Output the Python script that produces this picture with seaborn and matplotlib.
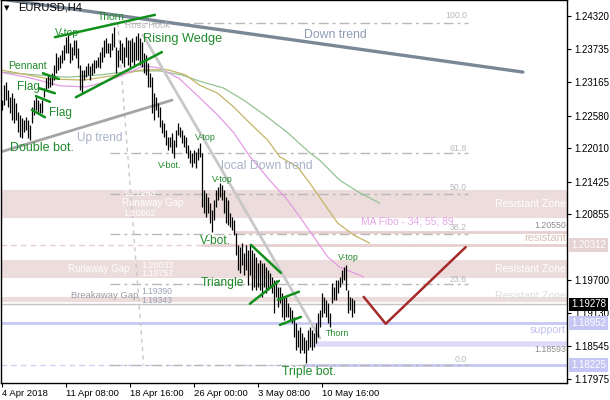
import matplotlib
matplotlib.use("Agg")
import matplotlib.pyplot as plt
import matplotlib.transforms as mtransforms
import seaborn as sns

# EURUSD H4 bar highs / lows (one bar per 4 hours)
high = [1.2285, 1.2311, 1.2317, 1.2303, 1.2290, 1.2297, 1.2289, 1.2280, 1.2264, 1.2259,
        1.2254, 1.2250, 1.2255, 1.2250, 1.2242, 1.2273, 1.2285, 1.2290, 1.2285, 1.2280,
        1.2285, 1.2306, 1.2324, 1.2329, 1.2325, 1.2332, 1.2346, 1.2367, 1.2360, 1.2364,
        1.2373, 1.2381, 1.2395, 1.2399, 1.2385, 1.2378, 1.2390, 1.2390, 1.2376, 1.2346,
        1.2338, 1.2338, 1.2345, 1.2350, 1.2345, 1.2350, 1.2355, 1.2355, 1.2360, 1.2369,
        1.2378, 1.2390, 1.2394, 1.2385, 1.2385, 1.2402, 1.2413, 1.2378, 1.2373, 1.2390,
        1.2385, 1.2378, 1.2395, 1.2390, 1.2390, 1.2394, 1.2387, 1.2397, 1.2402, 1.2394,
        1.2387, 1.2367, 1.2364, 1.2350, 1.2332, 1.2325, 1.2297, 1.2290, 1.2280, 1.2273,
        1.2250, 1.2245, 1.2233, 1.2221, 1.2221, 1.2228, 1.2215, 1.2233, 1.2245, 1.2238,
        1.2233, 1.2224, 1.2221, 1.2207, 1.2198, 1.2193, 1.2198, 1.2194, 1.2201, 1.2210,
        1.2193, 1.2128, 1.2123, 1.2116, 1.2105, 1.2093, 1.2110, 1.2128, 1.2133, 1.2140,
        1.2137, 1.2128, 1.2116, 1.2110, 1.2088, 1.2081, 1.2075, 1.2053, 1.2032, 1.2028,
        1.2035, 1.2018, 1.2032, 1.2023, 1.2032, 1.2023, 1.2018, 1.2011, 1.2000, 1.2005,
        1.2000, 1.2000, 1.1993, 1.1988, 1.1983, 1.1976, 1.1971, 1.1971, 1.1958, 1.1958,
        1.1948, 1.1941, 1.1941, 1.1930, 1.1923, 1.1918, 1.1906, 1.1895, 1.1883, 1.1888,
        1.1878, 1.1871, 1.1866, 1.1883, 1.1888, 1.1883, 1.1878, 1.1895, 1.1913, 1.1918,
        1.1948, 1.1941, 1.1936, 1.1930, 1.1913, 1.1965, 1.1958, 1.1971, 1.1971, 1.1976,
        1.1988, 1.1993, 1.1997, 1.1953, 1.1941, 1.1939, 1.1936]
low = [1.2268, 1.2276, 1.2285, 1.2273, 1.2262, 1.2250, 1.2245, 1.2250, 1.2229, 1.2221,
       1.2219, 1.2229, 1.2233, 1.2219, 1.2215, 1.2245, 1.2259, 1.2268, 1.2262, 1.2262,
       1.2262, 1.2290, 1.2303, 1.2306, 1.2308, 1.2311, 1.2320, 1.2332, 1.2338, 1.2341,
       1.2350, 1.2355, 1.2367, 1.2367, 1.2350, 1.2355, 1.2364, 1.2359, 1.2341, 1.2303,
       1.2297, 1.2320, 1.2325, 1.2329, 1.2320, 1.2329, 1.2332, 1.2341, 1.2343, 1.2341,
       1.2352, 1.2360, 1.2367, 1.2367, 1.2360, 1.2373, 1.2378, 1.2332, 1.2343, 1.2355,
       1.2350, 1.2343, 1.2360, 1.2346, 1.2341, 1.2352, 1.2346, 1.2355, 1.2355, 1.2346,
       1.2343, 1.2332, 1.2329, 1.2308, 1.2308, 1.2262, 1.2250, 1.2268, 1.2255, 1.2238,
       1.2228, 1.2221, 1.2207, 1.2198, 1.2203, 1.2193, 1.2184, 1.2203, 1.2224, 1.2221,
       1.2210, 1.2203, 1.2193, 1.2184, 1.2175, 1.2168, 1.2175, 1.2166, 1.2180, 1.2186,
       1.2098, 1.2088, 1.2081, 1.2088, 1.2070, 1.2054, 1.2075, 1.2098, 1.2110, 1.2116,
       1.2110, 1.2088, 1.2070, 1.2067, 1.2063, 1.2058, 1.2049, 1.2014, 1.1988, 1.1983,
       1.1997, 1.1979, 1.1988, 1.1962, 1.1979, 1.1953, 1.1958, 1.1953, 1.1958, 1.1953,
       1.1941, 1.1958, 1.1948, 1.1953, 1.1958, 1.1948, 1.1913, 1.1941, 1.1923, 1.1930,
       1.1906, 1.1901, 1.1906, 1.1906, 1.1901, 1.1895, 1.1871, 1.1848, 1.1853, 1.1843,
       1.1848, 1.1843, 1.1825, 1.1848, 1.1853, 1.1848, 1.1853, 1.1860, 1.1871, 1.1888,
       1.1906, 1.1913, 1.1906, 1.1895, 1.1888, 1.1930, 1.1936, 1.1936, 1.1948, 1.1958,
       1.1965, 1.1971, 1.1953, 1.1913, 1.1918, 1.1906, 1.1913]
bars = list(range(len(high)))

# moving averages 34 / 55 / 89, sampled along the lines
ma34_bar = [-1, 14, 29, 42, 52, 62, 71, 79, 89, 99, 108, 116, 124, 134, 143, 149, 156, 163, 169, 181]
ma34 = [1.2334, 1.2324, 1.2310, 1.2308, 1.2317, 1.2331, 1.2345, 1.2341, 1.2322, 1.2289,
        1.2259, 1.2228, 1.2187, 1.2145, 1.2110, 1.2081, 1.2046, 1.2011, 1.1993, 1.1976]
ma55_bar = [-1, 24, 41, 58, 71, 83, 92, 99, 108, 116, 124, 133, 139, 148, 154, 161, 168, 176, 184]
ma55 = [1.2338, 1.2322, 1.2320, 1.2329, 1.2338, 1.2338, 1.2329, 1.2311, 1.2297, 1.2273,
        1.2245, 1.2215, 1.2186, 1.2168, 1.2140, 1.2105, 1.2070, 1.2049, 1.2035]
ma89_bar = [-1, 33, 49, 66, 79, 90, 99, 111, 121, 133, 143, 154, 159, 169, 179, 189]
ma89 = [1.2334, 1.2325, 1.2329, 1.2336, 1.2336, 1.2329, 1.2318, 1.2306, 1.2285, 1.2255,
        1.2228, 1.2193, 1.2180, 1.2145, 1.2123, 1.2105]

# trend lines: (bar0, bar1), (price0, price1)
down_trend = ([-1, 260.6], [1.2462, 1.2334])
up_trend = ([-0.9, 85.2], [1.2194, 1.2285])
local_down = ([70.6, 159.1], [1.2399, 1.1869])
fibo_diag = ([58, 71], [1.2420, 1.18225])
pattern_lines = [([26.6, 76.6], [1.2395, 1.2434]),
                 ([37.1, 80.1], [1.2290, 1.2369]),
                 ([20.6, 28.6], [1.2332, 1.2322]),
                 ([18.6, 26.6], [1.2306, 1.2297]),
                 ([17.1, 24.1], [1.2292, 1.2282]),
                 ([15.1, 21.6], [1.2268, 1.2255]),
                 ([124.6, 139.6], [1.2032, 1.1983]),
                 ([124.1, 138.6], [1.1929, 1.1969]),
                 ([138.1, 148.6], [1.1936, 1.1950]),
                 ([139.1, 149.6], [1.1892, 1.1906])]
forecast_bar = [181, 192, 232]
forecast = [1.1941, 1.1894, 1.2028]

# fibonacci retracement
fib_hi, fib_lo = 1.2420, 1.18225
fib_levels = [100.0, 61.8, 50.0, 38.2, 23.6, 0.0]
fib_bars = (54, 233)

# gap / resistance zones (top, bottom)
zones = [(1.21263, 1.20802), (1.20033, 1.19757), (1.19390, 1.19343)]

yticks = [1.24320, 1.23735, 1.23165, 1.22580, 1.22010, 1.21425, 1.20855,
          1.19700, 1.19130, 1.18545, 1.17975]
xtick_bars = [0, 32, 64, 96, 128, 160]
xtick_labels = ["4 Apr 2018", "11 Apr 08:00", "18 Apr 16:00", "26 Apr 00:00",
                "3 May 08:00", "10 May 16:00"]
price_marks = [1.20312, 1.19278, 1.18952, 1.18225]
mark_colors = ['#e6d2d2', 'black', '#c6c6f4', '#c6c6f4']

PINK = '#ecdcdb'
LAV = '#c8c8f6'
G = '#1f8a2a'

sns.set_theme(style="white")
plt.rcParams['font.family'] = ['Liberation Sans', 'DejaVu Sans']

fig = plt.figure(figsize=(6.1, 4.0), dpi=100)
ax = fig.add_axes([1 / 610, 17 / 400, 566 / 610, 383 / 400])
ax.set_xlim(-0.35, 282.65)
ax.set_ylim(1.17905, 1.2460)

# zones and horizontal levels
for top, bot in zones:
    ax.axhspan(bot, top, color=PINK, lw=1.5, zorder=0)
ax.plot([116, 283], [1.20550, 1.20550], color='#e6d0d0', lw=2, zorder=0.5)
ax.axhline(1.20312, color='#e6cccc', lw=1, ls=(0, (4, 3)), zorder=0.5)
ax.plot([100, 283], [1.20312, 1.20312], color='#e6d0d0', lw=2, zorder=0.5)
ax.axhline(1.19278, color='#c4c4c4', lw=1, zorder=0.5)
ax.axhline(1.18952, color=LAV, lw=2, zorder=0.5)
ax.plot([158, 283], [1.18593, 1.18593], color='#dcdcfa', lw=4, zorder=0.5)
ax.axhline(1.18225, color='#d0d0f4', lw=1, ls=(0, (4, 3)), zorder=0.5)
ax.plot([151, 283], [1.18225, 1.18225], color=LAV, lw=2, zorder=0.5)

# fibo
for lev in fib_levels:
    p = fib_lo + (fib_hi - fib_lo) * lev / 100
    ax.plot(fib_bars, [p, p], color='#b8b8b8', lw=1, ls=(0, (7, 3, 2, 3)), zorder=0.6)
ax.plot(*fibo_diag, color='#c8c8c8', lw=1, ls=(0, (3, 3)), zorder=0.6)

# moving averages
sns.lineplot(x=ma89_bar, y=ma89, ax=ax, color='#94c494', lw=0.9, sort=False, zorder=1)
sns.lineplot(x=ma55_bar, y=ma55, ax=ax, color='#c4b466', lw=0.9, sort=False, zorder=1)
sns.lineplot(x=ma34_bar, y=ma34, ax=ax, color='#e49ae4', lw=0.9, sort=False, zorder=1)

# trend lines
ax.plot(*down_trend, color='#7a8796', lw=2.4, zorder=2)
ax.plot(*up_trend, color='#a4a4a4', lw=2, zorder=2)
ax.plot(*local_down, color='#c8c8c8', lw=2, zorder=2)

# price bars
ax.vlines(bars, low, high, color='black', lw=0.9, zorder=3)

for xs, ys in pattern_lines:
    ax.plot(xs, ys, color='#10901a', lw=1.8, zorder=4)
ax.plot(forecast_bar, forecast, color='#a52a2a', lw=1.8, zorder=4)


def px(x, y):
    return (x - 1) / 566, (383 - y) / 383


texts = [
    ("Thorn", 98, 17, 7.5, G, 'left'),
    ("Ross Hook", 125, 26, 6.6, '#b8b8b8', 'left'),
    ("V-top", 55, 33, 7.5, G, 'left'),
    ("Rising Wedge", 143, 39, 9.2, G, 'left'),
    ("Pennant", 8, 66, 7.5, G, 'left'),
    ("Flag", 17, 87, 8.5, G, 'left'),
    ("Flag", 49, 113, 8.5, G, 'left'),
    ("Double bot.", 10, 148, 9, G, 'left'),
    ("Up trend", 77, 138, 8.6, '#a8b2c8', 'left'),
    ("Down trend", 304, 35, 8.8, '#8c9cb4', 'left'),
    ("local Down trend", 221, 166, 8.8, '#a8b2c8', 'left'),
    ("V-bot.", 158, 165, 6.5, G, 'left'),
    ("V-top", 195, 137, 6.4, G, 'left'),
    ("V-top", 212, 180, 6.4, G, 'left'),
    ("V-bot.", 200, 241, 8.6, G, 'left'),
    ("Triangle", 201, 283, 8.7, G, 'left'),
    ("V-top", 338, 257, 6.4, G, 'left'),
    ("Thorn", 326, 333, 6.4, G, 'left'),
    ("Triple bot.", 282, 372, 8.8, G, 'left'),
    ("MA Fibo - 34; 55; 89", 361, 221, 7.4, '#e8a6e8', 'left'),
    ("Resistant Zone", 566, 204, 7.6, 'white', 'right'),
    ("Resistant Zone", 566, 269, 7.6, 'white', 'right'),
    ("Resistant Zone", 566, 296, 7.6, '#dedede', 'right'),
    ("resistant", 566, 238, 7.9, '#d8c0b0', 'right'),
    ("1.20550", 566, 225, 6.3, '#8c8c8c', 'right'),
    ("support", 566, 330, 7.7, '#c0c0f0', 'right'),
    ("1.18593", 566, 349, 6.3, '#8c8c8c', 'right'),
    ("1.21263", 123, 193, 6.4, 'white', 'left'),
    ("Runaway Gap", 122, 203, 7, 'white', 'left'),
    ("1.20802", 123, 213, 6.4, 'white', 'left'),
    ("Runaway Gap", 130, 269, 7, 'white', 'right'),
    ("1.20033", 141, 265, 6.4, 'white', 'left'),
    ("1.19757", 141, 274, 6.4, 'white', 'left'),
    ("Breakaway Gap", 138, 295, 6.8, '#9a9aa4', 'right'),
    ("1.19390", 141, 292, 6.2, '#9aa2b6', 'left'),
    ("1.19343", 141, 300.5, 6.2, '#9aa2b6', 'left'),
    ("EURUSD,H4", 18, 8, 8, 'black', 'left'),
]
for s, x, y, size, col, ha in texts:
    ax.text(*px(x, y), s, transform=ax.transAxes, fontsize=size, color=col,
            ha=ha, va='center', zorder=6)
for lev, y in zip(fib_levels, [16, 148, 188, 228, 279, 359]):
    ax.text(*px(467, y), f"{lev:.1f}", transform=ax.transAxes, fontsize=6.3,
            color='#b8b8b8', ha='right', va='center', zorder=6)
ax.text(*px(7, 8), "\u25bc", transform=ax.transAxes, fontsize=5, color='black',
        ha='center', va='center', family='DejaVu Sans', zorder=6)

# axes
ax.yaxis.tick_right()
ax.set_yticks(yticks)
ax.set_yticklabels([f"{v:.5f}" for v in yticks])
ax.set_xticks(xtick_bars)
ax.set_xticklabels(xtick_labels)
for lab in ax.get_xticklabels():
    lab.set_ha('left')
ax.tick_params(axis='y', which='both', right=True, length=3, width=0.8, pad=2,
               labelsize=7, colors='black')
ax.tick_params(axis='x', which='both', bottom=True, length=3, width=0.8, pad=1.5,
               labelsize=6.8, colors='black')
ax.grid(False)
for sp in ax.spines.values():
    sp.set_color('black')
    sp.set_linewidth(1)

trans = mtransforms.blended_transform_factory(ax.transAxes, ax.transData)
for p, bg in zip(price_marks, mark_colors):
    ax.text(1 + 4 / 566, p, f"{p:.5f}", transform=trans, fontsize=7, color='white',
            ha='left', va='center', clip_on=False, zorder=7,
            bbox=dict(boxstyle='square,pad=0.2', fc=bg, ec='none'))

fig.savefig("out.png", dpi=100)
